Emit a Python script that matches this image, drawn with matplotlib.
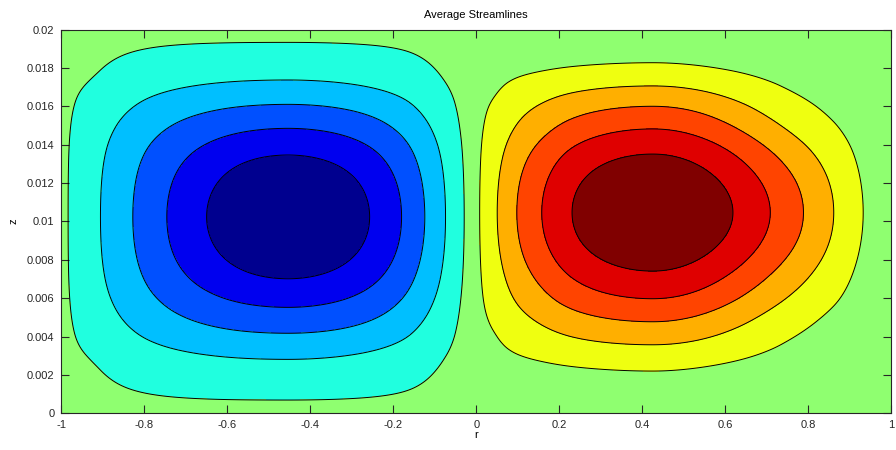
import numpy as np
import matplotlib
matplotlib.use("Agg")
import matplotlib.pyplot as plt

plt.rcParams["font.family"] = ["Liberation Sans", "DejaVu Sans"]

# Stream function levels: 10 contour levels evenly spaced between min and max
n_bands = 11
band_edges = np.linspace(-1.0, 1.0, n_bands + 1)
contour_levels = band_edges[1:-1]

# Band fill colours (jet-like, navy -> dark red)
band_colors = ["#00008F", "#0000EF", "#0050FF", "#00BFFF", "#20FFDF",
               "#8FFF70", "#EFFF10", "#FFAF00", "#FF4400", "#DF0000", "#800000"]

# Level index crossed along a line through a cell centre (value = index / 11)
cell_level_index = [0, 1, 3, 5, 7, 9, 11, 9, 7, 5, 3, 1, 0]

# Radial positions of those crossings through each cell centre
r_cross_left = [-1.0, -0.984, -0.906, -0.828, -0.746, -0.650, -0.4535,
                -0.257, -0.180, -0.124, -0.074, -0.029, 0.0]
r_cross_right = [0.0, 0.0083, 0.0506, 0.0979, 0.158, 0.231, 0.425,
                 0.619, 0.709, 0.789, 0.862, 0.933, 1.0]

# Axial positions of the same crossings through each cell centre
z_cross_left = [0.0, 0.00069, 0.00281, 0.00417, 0.00552, 0.00701, 0.01024,
                0.01346, 0.01485, 0.01610, 0.01737, 0.01933, 0.02]
z_cross_right = [0.0, 0.00220, 0.00357, 0.00477, 0.00597, 0.00741, 0.01046,
                 0.01351, 0.01482, 0.01600, 0.01706, 0.01827, 0.02]

# Cell orientation and how full the corners are (side towards -r, side towards +r)
cell_sign = {"left": -1.0, "right": 1.0}
corner_fill_left = (0.9, 0.3)
corner_fill_right = (0.0, -1.4)

x_ticks = [-1, -0.8, -0.6, -0.4, -0.2, 0, 0.2, 0.4, 0.6, 0.8, 1]
x_tick_labels = ["-1", "-0.8", "-0.6", "-0.4", "-0.2", "0", "0.2", "0.4", "0.6", "0.8", "1"]
y_ticks = [0, 0.002, 0.004, 0.006, 0.008, 0.01, 0.012, 0.014, 0.016, 0.018, 0.02]
y_tick_labels = ["0", "0.002", "0.004", "0.006", "0.008", "0.01", "0.012",
                 "0.014", "0.016", "0.018", "0.02"]


def pchip(xk, yk, x):
    """Monotone piecewise cubic Hermite interpolation (Fritsch-Carlson)."""
    xk = np.asarray(xk, float)
    yk = np.asarray(yk, float)
    h = np.diff(xk)
    d = np.diff(yk) / h
    m = np.zeros_like(yk)
    m[0], m[-1] = d[0], d[-1]
    for k in range(1, len(xk) - 1):
        if d[k - 1] * d[k] <= 0:
            m[k] = 0.0
        else:
            w1 = 2 * h[k] + h[k - 1]
            w2 = h[k] + 2 * h[k - 1]
            m[k] = (w1 + w2) / (w1 / d[k - 1] + w2 / d[k])
    x = np.clip(x, xk[0], xk[-1])
    idx = np.clip(np.searchsorted(xk, x) - 1, 0, len(xk) - 2)
    t = (x - xk[idx]) / h[idx]
    h00 = 2 * t**3 - 3 * t**2 + 1
    h10 = t**3 - 2 * t**2 + t
    h01 = -2 * t**3 + 3 * t**2
    h11 = t**3 - t**2
    return (h00 * yk[idx] + h10 * h[idx] * m[idx]
            + h01 * yk[idx + 1] + h11 * h[idx] * m[idx + 1])


def cell_profile(cross, x):
    """Bell-shaped profile (peak 1, zero at the walls) through the crossings.

    Works in a signed coordinate s with value = 1 - s**2, so the peak is
    parabolic and the closed contours round off smoothly.
    """
    value = np.array(cell_level_index) / 11.0
    peak = int(np.argmax(value))
    sgn = np.where(np.arange(len(value)) < peak, -1.0, 1.0)
    s = sgn * np.sqrt(np.clip(1.0 - value, 0, None))
    sx = pchip(cross, s, x)
    return np.clip(1.0 - sx**2, 0, None)


def cell_field(r_cross, z_cross, sign, fill, r, z):
    fr = cell_profile(r_cross, r)[None, :]
    gz = cell_profile(z_cross, z)[:, None]
    centre = r_cross[int(np.argmax(cell_level_index))]
    k = np.where(r < centre, fill[0], fill[1])[None, :]
    shape = 1.0 + k * (1.0 - fr) * (1.0 - gz)
    return sign * fr * gz * np.clip(shape, 0, None)


r = np.linspace(-1, 1, 1601)
z = np.linspace(0, 0.02, 801)
R, Z = np.meshgrid(r, z)

psi_left = cell_field(r_cross_left, z_cross_left, cell_sign["left"],
                      corner_fill_left, r, z)
psi_right = cell_field(r_cross_right, z_cross_right, cell_sign["right"],
                       corner_fill_right, r, z)
psi = np.where(R < 0, psi_left, psi_right)

fig = plt.figure(figsize=(8.96, 4.5), dpi=100)
ax = fig.add_axes([0.0686, 0.0816, 0.9258, 0.8528])

edges = band_edges.copy()
edges[0], edges[-1] = -1.5, 1.5
ax.contourf(R, Z, psi, levels=edges, colors=band_colors)
ax.contour(R, Z, psi, levels=contour_levels, colors="black",
           linewidths=0.7, linestyles="solid")

ax.set_xlim(-1, 1)
ax.set_ylim(0, 0.02)
ax.set_xticks(x_ticks)
ax.set_xticklabels(x_tick_labels)
ax.set_yticks(y_ticks)
ax.set_yticklabels(y_tick_labels)
ax.tick_params(direction="in", length=6, width=0.8, top=True, right=True,
               labelsize=8, colors="#262626", pad=5)
for s in ax.spines.values():
    s.set_color("#262626")
    s.set_linewidth(0.8)

ax.set_title("Average Streamlines", fontsize=8, pad=8)
ax.set_xlabel("r", fontsize=8, labelpad=0)
ax.set_ylabel("z", fontsize=8, labelpad=6)

fig.savefig("out.png", dpi=100)
